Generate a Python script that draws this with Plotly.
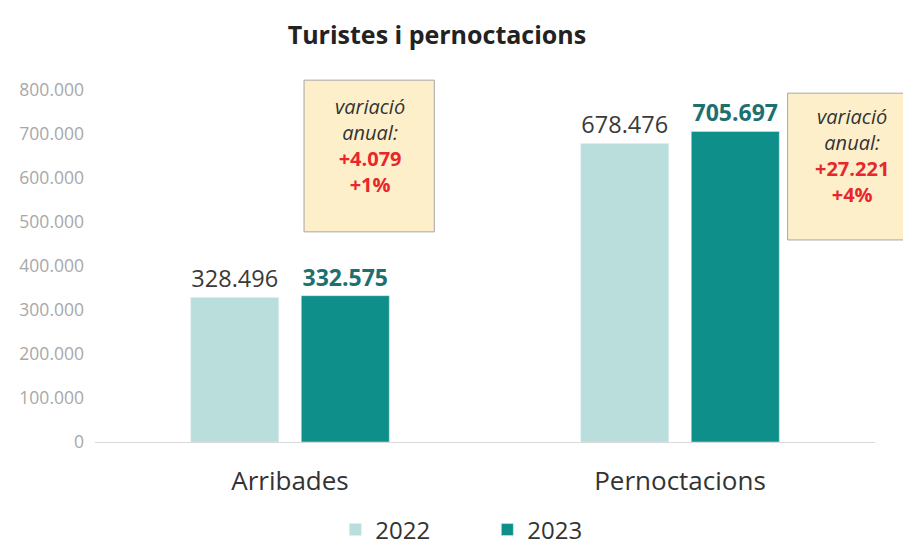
import plotly.graph_objects as go

categories = ["Arribades", "Pernoctacions"]
years = ["2022", "2023"]
values_2022 = [328496, 678476]
values_2023 = [332575, 705697]
diff_abs = ["+4.079", "+27.221"]
diff_pct = ["+1%", "+4%"]
tick_vals = [0, 100000, 200000, 300000, 400000, 500000, 600000, 700000, 800000]

FONT = "Open Sans"
c2022 = "#B9DEDC"
c2023 = "#0E8F8A"

fig = go.Figure()
fig.add_trace(go.Bar(
    x=categories, y=values_2022, name=years[0], marker_color=c2022,
    texttemplate="%{y:,.0f}", textposition="outside", cliponaxis=False,
    textfont=dict(family=FONT, size=23.5, color="#3a3a3a"),
))
fig.add_trace(go.Bar(
    x=categories, y=values_2023, name=years[1], marker_color=c2023,
    texttemplate="<b>%{y:,.0f}</b>", textposition="outside", cliponaxis=False,
    textfont=dict(family=FONT, size=23, color="#1D6F70"),
))

# annotation boxes (paper coords of the plot area)
boxes = [
    dict(x0=0.268, x1=0.435, y0=0.597, y1=1.028, xc=0.3526, yc=0.841),
    dict(x0=0.888, x1=1.08, y0=0.574, y1=0.991, xc=0.9705, yc=0.815),
]
for b, da, dp in zip(boxes, diff_abs, diff_pct):
    fig.add_shape(type="rect", xref="paper", yref="paper",
                  x0=b["x0"], x1=b["x1"], y0=b["y0"], y1=b["y1"],
                  fillcolor="#FEEFCB", line=dict(color="#A6A6A6", width=1), layer="above")
    fig.add_annotation(
        xref="paper", yref="paper", x=b["xc"], y=b["yc"],
        xanchor="center", yanchor="middle",
        text=("<i>variació</i><br><i>anual:</i><br>"
              f"<b><span style='color:#E8262B'>{da}</span></b><br>"
              f"<b><span style='color:#E8262B'>{dp}</span></b>"),
        showarrow=False, align="center",
        font=dict(family=FONT, size=20, color="#333333"),
    )

fig.update_layout(
    width=903, height=539,
    margin=dict(l=87, r=36, t=82, b=105, autoexpand=False),
    paper_bgcolor="white", plot_bgcolor="white",
    separators=",.",
    title=dict(text="<b>Turistes i pernoctacions</b>", x=0.475, xanchor="center",
               y=1 - 27 / 539, yanchor="middle",
               font=dict(family=FONT, size=25, color="#222222")),
    barmode="group", bargap=0.433, bargroupgap=0.204,
    showlegend=True,
    legend=dict(orientation="h", x=0.503, xanchor="center", y=-0.25, yanchor="middle",
                font=dict(family=FONT, size=24, color="#333333"),
                itemwidth=30, entrywidth=107, traceorder="normal"),
    xaxis=dict(showline=True, linecolor="#D9D9D9", linewidth=1, ticks="",
               ticklabelstandoff=16,
               tickfont=dict(family=FONT, size=26, color="#333333"), showgrid=False),
    yaxis=dict(range=[0, 800000], tickvals=tick_vals, tickformat=",.0f",
               showgrid=False, zeroline=False, showline=False,
               ticklabelstandoff=10,
               tickfont=dict(family=FONT, size=17.5, color="#A8A8A8"),
               ticks="", ),
)

fig.write_html("out.html")
